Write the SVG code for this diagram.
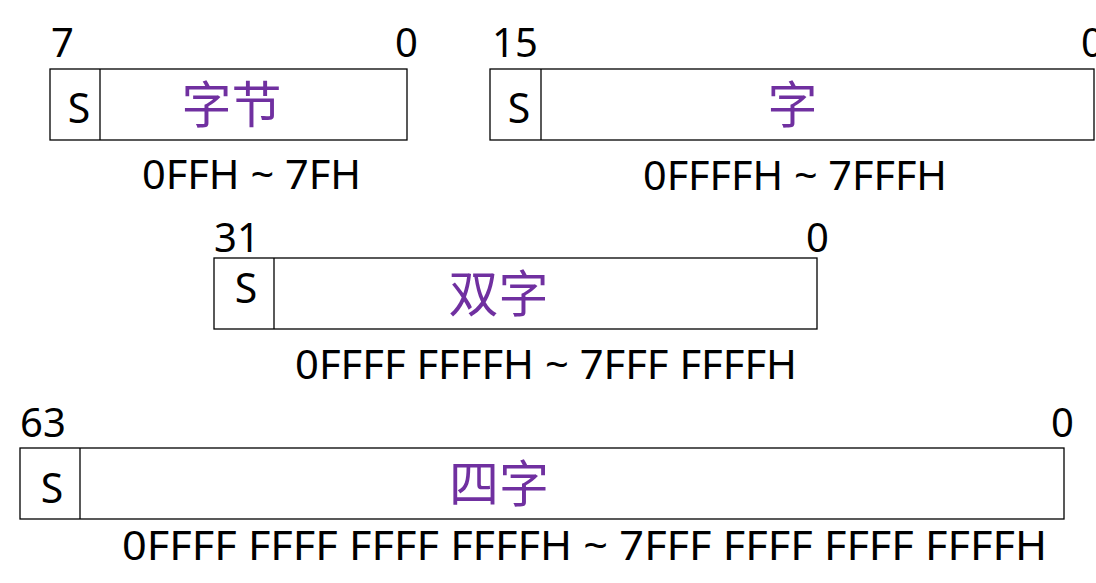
<svg xmlns="http://www.w3.org/2000/svg" width="1096" height="583" viewBox="0 0 1096 583">
<style>
.box{fill:#fff;stroke:#000;stroke-width:1.3}
.div{stroke:#000;stroke-width:1.3}
.num{font-family:"Noto Sans","Open Sans","DejaVu Sans",sans-serif;font-size:40px;fill:#000}
.s{font-family:"Noto Sans","Open Sans","DejaVu Sans",sans-serif;font-size:41px;fill:#000;text-anchor:middle}
.cn{font-family:"Noto Sans CJK SC","Noto Sans",sans-serif;font-size:50px;fill:#7030A0;text-anchor:middle}
.rng{font-family:"Noto Sans","Open Sans","DejaVu Sans",sans-serif;font-size:40px;fill:#000}
</style>
<rect width="1096" height="583" fill="#fff"/>
<g id="byte">
<text class="num" x="51" y="57">7</text>
<text class="num" x="418" y="57" text-anchor="end">0</text>
<rect class="box" x="50" y="69" width="357" height="71"/>
<line class="div" x1="100" y1="69" x2="100" y2="140"/>
<text class="s" x="79" y="123">S</text>
<text class="cn" x="231.5" y="123">字节</text>
<text class="rng" x="142" y="189" textLength="219" lengthAdjust="spacingAndGlyphs">0FFH ~ 7FH</text>
</g>
<g id="word">
<text class="num" x="492" y="57">15</text>
<text class="num" x="1081" y="57">0</text>
<rect class="box" x="490" y="69" width="604" height="71"/>
<line class="div" x1="541" y1="69" x2="541" y2="140"/>
<text class="s" x="519" y="123">S</text>
<text class="cn" x="792.5" y="123">字</text>
<text class="rng" x="643" y="190" textLength="304" lengthAdjust="spacingAndGlyphs">0FFFFH ~ 7FFFH</text>
</g>
<g id="dword">
<text class="num" x="214" y="252">31</text>
<text class="num" x="829" y="252" text-anchor="end">0</text>
<rect class="box" x="214" y="258" width="603" height="71"/>
<line class="div" x1="274" y1="258" x2="274" y2="329"/>
<text class="s" x="246" y="303">S</text>
<text class="cn" x="498.5" y="312">双字</text>
<text class="rng" x="295" y="379" textLength="502" lengthAdjust="spacingAndGlyphs">0FFFF FFFFH ~ 7FFF FFFFH</text>
</g>
<g id="qword">
<text class="num" x="20" y="437">63</text>
<text class="num" x="1074" y="437" text-anchor="end">0</text>
<rect class="box" x="20" y="448" width="1044" height="71"/>
<line class="div" x1="80" y1="448" x2="80" y2="519"/>
<text class="s" x="52" y="503">S</text>
<text class="cn" x="499" y="502">四字</text>
<text class="rng" x="122" y="560" textLength="925" lengthAdjust="spacingAndGlyphs">0FFFF FFFF FFFF FFFFH  ~  7FFF FFFF FFFF FFFFH</text>
</g>
<g id="connectors"></g>
</svg>
